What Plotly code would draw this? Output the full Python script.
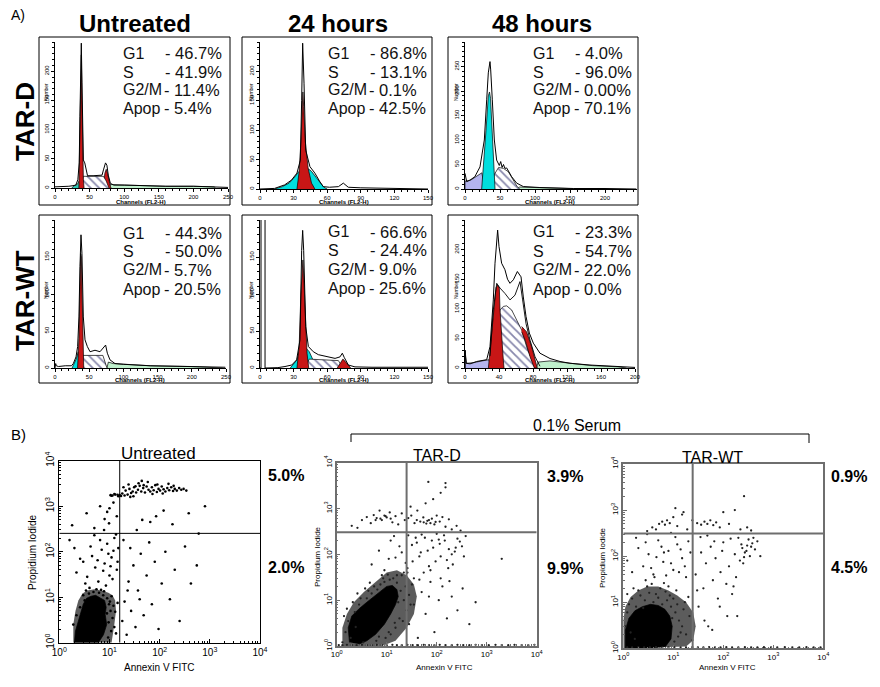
import plotly.graph_objects as go

W, H = 880, 687
OFF = 8  # the page body adds an 8 px margin; positions below are measured on the picture
FONT = "Liberation Sans, Arial, sans-serif"

# ---------------- A) DNA content histograms (channel, count) ----------------
# Untreated TAR-D
h1_ch = [0, 10, 20, 26, 30, 33, 35, 36, 37, 38, 39, 40, 41, 43, 45, 47, 55, 62, 68, 70, 73, 75, 77, 80, 85, 100, 130, 160, 200, 230, 250]
h1_n = [2, 2, 3, 4, 5, 14, 43, 122, 219, 248, 180, 94, 48, 43, 31, 21, 21, 22, 22, 31, 43, 39, 22, 8, 5, 5, 4, 3, 3, 2, 1]
h1_teal_x = [24, 28, 32, 35, 36.5]
h1_teal_y = [0, 4, 6, 12, 0]
h1_g1_x = [34.5, 36, 37, 38, 39, 40, 41, 42]
h1_g1_y = [0, 100, 200, 228, 150, 60, 15, 0]
h1_g2_x = [70, 70, 72, 74, 76, 78, 80, 81]
h1_g2_y = [0, 4, 25, 32, 25, 12, 3, 0]
h1_s_x = [36, 41, 70, 74, 78]
h1_s_y = [0, 20, 20, 12, 0]
h1_green_x = [78, 80, 100, 130, 160, 200, 230, 232]
h1_green_y = [0, 6, 5, 4, 3, 3, 2, 0]

# 24 hours TAR-D
h2_ch = [0, 10, 13, 22, 28, 33, 36, 37.2, 38.1, 39.3, 40.8, 44.6, 49, 53.6, 56.5, 62, 70, 74.4, 78.8, 90, 110, 130, 150]
h2_n = [0, 0, 1, 7, 15, 27, 49, 151, 248, 180, 66, 38, 27, 12, 4, 3, 4, 10, 3, 2, 1, 1, 0]
h2_cyan_x = [13, 20, 26, 30, 34, 38, 42, 46, 50, 54, 57, 60]
h2_cyan_y = [0, 4, 10, 18, 28, 36, 36, 30, 20, 10, 3, 0]
h2_g1_x = [33, 35, 36.5, 37.5, 38.3, 39, 40.5, 43, 46, 49]
h2_g1_y = [0, 30, 80, 140, 165, 140, 80, 35, 10, 0]

# 48 hours TAR-D
h3_ch = [0, 2.4, 7, 14, 21.4, 23.8, 27.6, 31, 33.3, 35.7, 36.7, 39, 41.9, 45.2, 47, 49, 51, 53, 55, 57, 59.5, 63, 66.7, 73.8, 83.3, 107, 155, 200, 245]
h3_n = [32, 15, 18, 25, 45, 66, 100, 182, 237, 260, 243, 182, 100, 59, 55, 48, 56, 44, 50, 42, 43, 35, 25, 12, 5, 3, 1, 1, 0]
h3_lav_x = [0, 0, 8, 16, 24, 27, 28]
h3_lav_y = [0, 16, 18, 25, 33, 10, 0]
h3_cyan_x = [23.8, 27, 30, 33.3, 35, 36.5, 39, 41, 42.9]
h3_cyan_y = [0, 55, 120, 190, 198, 185, 110, 45, 0]
h3_s_x = [36, 42, 48, 55, 62, 68, 74, 78]
h3_s_y = [0, 30, 44, 42, 35, 20, 6, 0]
h3_green_x = [74, 78, 100, 140, 170, 172]
h3_green_y = [0, 4, 3, 2, 1, 0]

# Untreated TAR-WT
h4_ch = [0, 1, 2, 5, 15, 24, 26.8, 30.7, 33.1, 35, 36.5, 38, 39.4, 41.4, 43.9, 47.3, 51.2, 58.5, 65.8, 71.6, 74, 76.5, 80.4, 87.7, 100, 139, 193, 249]
h4_n = [0, 6, 3, 2, 3, 3, 6, 15, 29, 69, 137, 180, 155, 69, 38, 29, 22, 24, 22, 29, 31, 20, 11, 6, 5, 3, 2, 1]
h4_cyan_x = [25, 28, 31, 34, 35]
h4_cyan_y = [0, 5, 12, 22, 0]
h4_g1_x = [33, 35, 36.5, 37.5, 38.5, 39.5, 40.5, 42]
h4_g1_y = [0, 40, 110, 155, 150, 100, 40, 0]
h4_s_x = [37, 41, 70, 76]
h4_s_y = [0, 17, 17, 0]
h4_green_x = [76, 78, 85, 100, 140, 200, 245, 245]
h4_green_y = [0, 8, 6, 5, 3, 2, 1, 0]

# 24 hours TAR-WT
h5_ch = [0, 0.9, 0.9, 4.5, 4.5, 10, 16, 22.3, 28.3, 32.7, 35.7, 37.2, 38.1, 39, 40.8, 43.2, 47.6, 52.1, 59.5, 67, 71.4, 73.5, 75.3, 78.9, 84.8, 100, 150]
h5_n = [0, 0, 215, 215, 0, 0, 0.5, 2, 4, 11, 38, 159, 186, 159, 56, 29, 22, 18, 15, 13, 15, 20, 14, 4, 1.5, 1, 1]
h5_cyan_x = [27, 30, 33, 35, 38, 41, 44, 47, 49]
h5_cyan_y = [0, 5, 11, 22, 28, 27, 22, 12, 0]
h5_g1_x = [33, 35, 36.5, 37.5, 38.3, 39.2, 40.5, 42, 43.5]
h5_g1_y = [0, 30, 100, 140, 146, 120, 60, 20, 0]
h5_s_x = [40, 44, 70, 74]
h5_s_y = [0, 12, 10, 0]
h5_g2_x = [69, 72, 74, 76, 79, 81]
h5_g2_y = [0, 8, 12, 9, 3, 0]

# 48 hours TAR-WT
h6_ch = [0, 0.3, 1.2, 5.9, 13.7, 19.6, 25.5, 29.4, 31.4, 33.3, 35.3, 37.3, 38.4, 40, 43.1, 47, 50, 52.9, 56.9, 61.6, 65.9, 68.6, 71.8, 75.7, 80.4, 88.2, 100, 111.8, 123.5, 147, 182, 200]
h6_n = [0, 30, 8, 7, 11, 12, 14, 36, 70, 115, 177, 222, 233, 205, 177, 166, 150, 143, 149, 163, 154, 120, 87, 59, 42, 25, 16, 11, 8, 5, 2, 1]
h6_fit_ch = [29.4, 33.3, 37.3, 41.2, 47, 52.9, 58.8, 64.7, 67.8, 71.8, 76.5, 82.4, 88.2]
h6_fit_n = [20, 98, 143, 135, 126, 115, 123, 146, 115, 75, 47, 19, 3]
h6_lav_x = [0, 0, 2, 10, 20, 28, 31]
h6_lav_y = [0, 25, 8, 9, 12, 14, 0]
h6_s_x = [29.4, 35.3, 41.2, 45.1, 49, 54.9, 60.8, 66.7, 72.5, 78.4, 82.4]
h6_s_y = [0, 58, 98, 104, 105, 98, 81, 64, 36, 13, 0]
h6_g1_x = [27.5, 31.4, 34.5, 36.5, 38.5, 40.4, 41.2, 43.1, 45.1, 45.9]
h6_g1_y = [0, 58, 115, 136, 140, 135, 98, 47, 13, 0]
h6_g2_x = [66.7, 72.5, 78.4, 84.3, 85, 81.6, 76.5, 70.6, 66.7]
h6_g2_y = [70, 61, 36, 5, 0, 0, 19, 48, 61]
h6_green_x = [84, 86, 100, 115, 130, 150, 180, 190]
h6_green_y = [0, 10, 12, 10, 7, 4, 2, 0]

phase_names = ["G1", "S", "G2/M", "Apop"]
pct_ut_d = ["46.7%", "41.9%", "11.4%", "5.4%"]
pct_24_d = ["86.8%", "13.1%", "0.1%", "42.5%"]
pct_48_d = ["4.0%", "96.0%", "0.00%", "70.1%"]
pct_ut_wt = ["44.3%", "50.0%", "5.7%", "20.5%"]
pct_24_wt = ["66.6%", "24.4%", "9.0%", "25.6%"]
pct_48_wt = ["23.3%", "54.7%", "22.0%", "0.0%"]

# ---------------- B) Annexin V / PI dot plots ----------------
# density contours (speckle zone, dense core) and individual events
b1_outer_x = [1.9, 1.9, 2.1, 2.4, 2.9, 3.6, 5.0, 7.0, 9.5, 11.5, 13, 13.5, 12.5, 11]
b1_outer_y = [1.0, 2.5, 5.0, 8.5, 12, 14, 15, 14, 12.5, 11, 8.5, 5, 2.5, 1.0]
b1_core_x = [2.0, 2.1, 2.4, 2.7, 3.0, 3.5, 4.3, 5.3, 6.5, 8.0, 8.6, 8.2, 8.8, 7.6, 6.0]
b1_core_y = [1.0, 1.8, 3.0, 4.8, 7.0, 9.5, 10.5, 11.0, 9.5, 8.5, 6.0, 4.2, 2.5, 1.5, 1.0]
b1_halo_x = [1.9, 2.2, 2.6, 3.2, 3.9, 4.8, 6.2, 7.5, 9.0, 9.8, 10.5, 11.5, 12.5, 13.5, 9.4, 8.9, 10.2, 11.0, 12.0, 7.8, 5.5, 4.0, 3.0, 2.4, 6.8, 9.6, 10.8, 13.0, 14.5, 3.4]
b1_halo_y = [2.5, 4.0, 6.0, 8.5, 12.0, 13.0, 12.5, 11.0, 9.5, 7.0, 5.0, 3.5, 2.2, 1.6, 1.3, 4.4, 8.0, 10.5, 6.5, 13.5, 15.0, 16.0, 11.0, 1.3, 14.5, 2.8, 1.8, 4.8, 7.5, 14.0]
b1_mid_x = [2.2, 3.0, 3.6, 4.5, 5.2, 6.0, 7.0, 8.0, 9.0, 10.0, 11.0, 12.5, 14.0, 15.0, 3.3, 4.2, 5.8, 7.5, 9.5, 11.5, 13.5, 2.6, 6.5, 8.5, 10.5, 12.0, 14.5, 5.0, 7.8, 9.8, 1.6, 2.0]
b1_mid_y = [35, 60, 28, 80, 45, 22, 110, 55, 150, 30, 75, 200, 40, 120, 20, 130, 65, 38, 90, 25, 240, 70, 180, 18, 48, 105, 60, 230, 300, 420, 180, 120]
b1_ul_x = [1.8, 3.5, 5.0, 8.0, 10.0, 12.0, 14.0, 9.0, 11.0, 13.0, 15.0, 6.5, 10.5, 12.5, 14.5, 11.5]
b1_ul_y = [380, 700, 330, 520, 900, 1200, 600, 750, 1700, 1800, 1650, 1000, 1750, 1850, 1780, 1720]
b1_band_x = [16, 17, 18, 20, 21, 23, 25, 27, 29, 31, 34, 37, 40, 43, 47, 51, 55, 60, 65, 70, 76, 82, 88, 95, 102, 110, 120, 130, 142, 155, 170, 185, 200, 220, 245, 270, 300, 340, 19, 24, 30, 38, 48, 58, 72, 90, 115, 150, 190, 26, 33, 44]
b1_band_y = [1750, 1680, 1900, 1720, 2200, 1800, 2400, 1950, 2100, 2600, 2000, 2300, 2800, 2100, 2500, 2000, 2700, 2300, 2100, 2600, 2250, 2900, 2050, 2400, 2200, 2700, 2350, 2100, 2500, 2250, 2600, 2150, 2400, 2200, 2500, 2300, 2400, 2200, 2600, 3000, 1650, 3200, 2900, 3400, 1850, 3000, 1900, 3100, 2800, 1600, 2750, 3600]
b1_lr_x = [18, 20, 22, 24, 27, 30, 33, 37, 42, 48, 55, 62, 70, 80, 95, 110, 130, 160, 200, 250, 320, 420, 550, 800, 19, 26, 35, 45, 65, 85, 120, 180, 380, 600, 23, 40]
b1_lr_y = [3, 8, 1.5, 22, 5, 50, 2.2, 14, 90, 4, 30, 160, 7, 60, 2, 20, 100, 9, 40, 3, 130, 20, 50, 1000, 180, 120, 300, 500, 450, 600, 800, 400, 700, 250, 14, 9]
b1_gate_x = 16
b1_gate_y = 253

b2_outer_x = [1.3, 1.3, 1.6, 2.2, 3.5, 6, 10, 16, 25, 35, 40, 35, 25, 15, 8]
b2_outer_y = [1.0, 2.5, 5, 9, 15, 25, 40, 45, 35, 22, 12, 5, 2.5, 1.3, 1.0]
b2_core_x = [1.8, 1.7, 2.0, 2.8, 4.0, 5.5, 7.5, 10, 13, 16, 17, 15, 12, 9, 6, 4, 2.8]
b2_core_y = [1.2, 2.5, 4.5, 6.5, 9, 12, 16, 20, 21, 17, 12, 8, 5, 3, 1.8, 1.3, 1.1]
b2_halo_x = [1.3, 1.5, 1.7, 1.9, 2.3, 2.8, 3.4, 4.0, 5.0, 6.2, 7.5, 9.0, 11.0, 13.5, 16, 19, 22, 25, 18, 15, 20, 24, 28, 1.6, 2.1, 2.6, 3.7, 4.6, 5.6, 7.0, 8.5, 10.5, 12.0, 17, 21, 26, 30, 3.0, 4.3, 9.5, 14.5, 1.4, 2.4, 6.5, 11.5]
b2_halo_y = [1.2, 2.0, 3.5, 1.5, 5.5, 8.0, 1.2, 11.0, 14.0, 1.3, 22.0, 25.0, 2.0, 30.0, 24.0, 16.0, 10.0, 6.0, 4.0, 2.5, 35.0, 20.0, 13.0, 6.5, 9.0, 14.0, 18.0, 24.0, 20.0, 1.6, 30.0, 36.0, 1.8, 9.0, 3.5, 40.0, 8.0, 11.0, 16.0, 1.5, 3.2, 4.5, 2.6, 17.0, 28.0]
b2_mid_x = [5, 7, 9, 12, 15, 18, 22, 27, 33, 40, 48, 58, 70, 85, 100, 120, 145, 175, 210, 260, 320, 380, 8, 11, 14, 20, 26, 32, 38, 45, 55, 66, 80, 95, 115, 140, 170, 200, 240, 290, 16, 24, 35, 50, 75, 110, 160, 230, 350, 2000]
b2_mid_y = [60, 120, 45, 200, 85, 150, 40, 260, 70, 180, 110, 230, 55, 140, 280, 90, 200, 130, 60, 220, 150, 250, 35, 80, 250, 110, 50, 160, 230, 90, 40, 120, 200, 70, 170, 260, 50, 100, 140, 190, 35, 65, 30, 270, 45, 210, 75, 115, 90, 80]
b2_lr_x = [28, 35, 42, 50, 60, 75, 90, 110, 130, 160, 200, 260, 330, 450, 600, 32, 45, 70, 120, 180]
b2_lr_y = [3, 8, 1.5, 15, 5, 25, 2, 10, 20, 4, 12, 6, 18, 3, 9, 22, 28, 12, 30, 26]
b2_band_x = [2.0, 2.6, 3.2, 4.0, 4.8, 5.5, 6.3, 7.2, 8.0, 9.0, 10.0, 11.5, 13.0, 15.0, 17.0, 20.0, 23.0, 27.0, 31.0, 36.0, 41.0, 47.0, 54.0, 62.0, 70.0, 80.0, 90.0, 100.0, 115.0, 130.0, 150.0, 175.0, 200.0, 250.0, 300.0, 6.0, 7.5, 9.5, 12.0, 40.0, 55.0, 65.0, 75.0, 95.0, 60, 85, 120, 150, 30, 68, 150]
b2_band_y = [420, 380, 560, 650, 480, 720, 620, 900, 560, 700, 640, 820, 500, 680, 450, 780, 560, 620, 700, 480, 900, 520, 640, 470, 560, 600, 450, 700, 520, 650, 400, 580, 350, 420, 330, 560, 600, 680, 600, 560, 500, 540, 480, 510, 1300, 1600, 2200, 2900, 1100, 3800, 3600]
b2_floor_x = [1.1, 1.3, 1.6, 2.0, 2.5, 3.2, 4.0, 5.0, 6.3, 8.0, 10, 13, 16, 20, 26, 33, 42, 55, 70, 90, 115, 150, 200, 260, 340, 450, 600, 800, 1100, 1500, 2000, 2700, 3600, 5000, 6800, 9000]
b2_floor_y = [1.05, 1.04, 1.06, 1.05, 1.04, 1.06, 1.05, 1.04, 1.06, 1.05, 1.04, 1.06, 1.05, 1.04, 1.06, 1.05, 1.04, 1.06, 1.05, 1.04, 1.06, 1.05, 1.04, 1.06, 1.05, 1.04, 1.06, 1.05, 1.04, 1.06, 1.05, 1.04, 1.06, 1.05, 1.04, 1.06]
b2_gate_x = 25
b2_gate_y = 302

b3_outer_x = [1.0, 1.0, 1.1, 1.4, 2.0, 3.0, 5.0, 8.0, 12, 18, 25, 28, 25, 18]
b3_outer_y = [1.0, 4, 8, 13, 18, 22, 22, 18, 14, 10, 6, 3, 1.5, 1.1]
b3_core_x = [1.1, 1.1, 1.3, 1.7, 2.4, 3.5, 5.0, 6.8, 8.5, 9.5, 9.0, 7.0, 4.0]
b3_core_y = [1.02, 2.5, 4.5, 6.5, 8.0, 9.0, 8.5, 7.0, 5.0, 3.0, 1.6, 1.1, 1.02]
b3_halo_x = [1.1, 1.2, 1.3, 1.5, 1.8, 2.2, 2.7, 3.3, 4.0, 5.0, 6.0, 7.5, 9.0, 11.0, 13.0, 15.0, 18.0, 21.0, 24.0, 1.4, 1.7, 2.0, 2.5, 3.0, 3.7, 4.5, 5.5, 7.0, 8.5, 10.0, 12.0, 14.0, 16.0, 20.0, 10.5, 12.5, 9.5, 1.2, 1.6, 2.8, 4.2, 6.5, 8.0, 11.5, 17.0]
b3_halo_y = [3.0, 6.0, 9.0, 12.0, 8.0, 14.0, 11.0, 16.0, 10.0, 12.5, 9.0, 11.0, 8.0, 6.0, 4.0, 3.0, 2.0, 5.0, 1.5, 2.2, 1.6, 18.0, 7.5, 22.0, 25.0, 15.0, 20.0, 17.0, 14.0, 12.0, 9.0, 2.2, 7.0, 13.0, 1.4, 1.8, 4.5, 15.0, 20.0, 30.0, 35.0, 26.0, 22.0, 18.0, 10.0]
b3_mid_x = [1.2, 1.5, 2.0, 2.5, 3.2, 4.0, 5.0, 6.3, 8.0, 10, 12, 15, 18, 22, 1.8, 2.8, 3.6, 4.6, 5.8, 7.2, 9.0, 11, 14, 17, 20, 3.0, 6.5, 13]
b3_mid_y = [80, 45, 150, 60, 110, 40, 220, 75, 130, 50, 180, 90, 35, 120, 250, 200, 55, 95, 160, 38, 70, 260, 140, 60, 210, 300, 120, 45]
b3_right_x = [28, 32, 36, 40, 45, 50, 56, 62, 70, 78, 88, 100, 115, 130, 150, 170, 190, 215, 240, 270, 300, 340, 380, 430, 480, 550, 200, 230, 260, 290, 320, 360, 400, 250, 180, 30, 42, 60, 85, 120, 160, 35, 48, 66, 95, 140]
b3_right_y = [40, 8, 120, 20, 70, 3, 160, 30, 90, 12, 45, 200, 25, 60, 15, 110, 5, 80, 150, 120, 170, 100, 190, 140, 210, 100, 250, 180, 95, 130, 230, 160, 250, 70, 35, 18, 4, 2.5, 8, 5, 22, 260, 280, 210, 130, 240]
b3_band_x = [3.0, 3.8, 4.5, 5.2, 6.0, 6.8, 7.5, 8.5, 10, 12, 15, 19, 24, 30, 36, 42, 48, 55, 63, 72, 85, 100, 130, 170, 220, 300, 360, 11, 16, 9, 260]
b3_band_y = [350, 420, 380, 500, 560, 480, 600, 520, 700, 450, 800, 380, 600, 520, 480, 560, 500, 600, 470, 540, 420, 900, 500, 1000, 380, 420, 360, 1100, 900, 320, 2000]
b3_floor_x = [1.2, 1.5, 2.0, 2.6, 3.4, 4.5, 6.0, 8.0, 10.5, 14, 18, 24, 31, 40, 52, 68, 88, 115, 150, 200, 270, 360, 480, 650, 900, 1200, 1700, 2400, 3300, 4600, 6400, 8800]
b3_floor_y = [1.05, 1.04, 1.06, 1.05, 1.04, 1.06, 1.05, 1.04, 1.06, 1.05, 1.04, 1.06, 1.05, 1.04, 1.06, 1.05, 1.04, 1.06, 1.05, 1.04, 1.06, 1.05, 1.04, 1.06, 1.05, 1.04, 1.06, 1.05, 1.04, 1.06, 1.05, 1.04]
b3_gate_x = 24.4
b3_gate_y = 311

RED = "#c81616"
CYAN = "#00dede"
TEAL = "#30c8b4"
GREEN = "#bff0cc"
LAV = "#b4b4ee"
SPECKLE = "#5c5c5c"

fig = go.Figure()


def X(p):
    return (p - OFF) / W


def Y(p):
    return 1 - (p - OFF) / H


def sfx(k):
    return "" if k == 1 else str(k)


def line_tr(k, xs, ys, width=1.0, color="black"):
    fig.add_trace(go.Scatter(x=xs, y=ys, mode="lines", line=dict(color=color, width=width),
                             xaxis="x" + sfx(k), yaxis="y" + sfx(k), showlegend=False, hoverinfo="skip"))


def region(k, xs, ys, color=None, hatch=False, edge="black", edge_w=0.7):
    kw = dict(fillcolor=color)
    if hatch:
        kw = dict(fillcolor="white",
                  fillpattern=dict(shape="\\", fgcolor="#12125a", bgcolor="white", size=6, solidity=0.3))
    fig.add_trace(go.Scatter(x=xs, y=ys, mode="lines", fill="toself", line=dict(color=edge, width=edge_w),
                             xaxis="x" + sfx(k), yaxis="y" + sfx(k), showlegend=False, hoverinfo="skip", **kw))


def dots(k, xs, ys, size=2, color="black"):
    fig.add_trace(go.Scatter(x=xs, y=ys, mode="markers", marker=dict(size=size, color=color, line=dict(width=0)),
                             xaxis="x" + sfx(k), yaxis="y" + sfx(k), showlegend=False, hoverinfo="skip"))


def hist_axes(k, xpx, ypx, xr, xt, xm, yr, yt, ym):
    common = dict(showline=True, linecolor="black", linewidth=1, ticks="outside", ticklen=3,
                  tickcolor="black", showgrid=False, zeroline=False, automargin=False,
                  tickfont=dict(family=FONT, size=6, color="black"))
    fig.update_layout({
        "xaxis" + sfx(k): dict(domain=[X(xpx[0]), X(xpx[1])], range=xr, tickmode="array", tickvals=xt,
                               anchor="y" + sfx(k),
                               minor=dict(tickmode="linear", tick0=0, dtick=xm, ticks="outside", ticklen=2),
                               **common),
        "yaxis" + sfx(k): dict(domain=[Y(ypx[1]), Y(ypx[0])], range=yr, tickmode="array", tickvals=yt,
                               anchor="x" + sfx(k), tickangle=-90,
                               minor=dict(tickmode="linear", tick0=0, dtick=ym, ticks="outside", ticklen=2),
                               **common),
    })


# histogram panels: axis geometry in pixels
hist_axes(1, (55, 228), (42, 188), [0, 250], [0, 50, 100, 150, 200, 250], 10, [0, 250], [0, 50, 100, 150, 200], 10)
hist_axes(2, (260, 428), (42, 189), [0, 150], [0, 30, 60, 90, 120, 150], 6, [0, 250], [0, 50, 100, 150, 200], 10)
hist_axes(3, (465, 636.5), (42, 189), [0, 245], [0, 50, 100, 150, 200], 10, [0, 300], [0, 50, 100, 150, 200, 250], 10)
hist_axes(4, (55, 226), (220, 368), [0, 250], [0, 50, 100, 150, 200, 250], 10, [0, 200], [0, 50, 100, 150], 10)
hist_axes(5, (260, 428), (220, 368), [0, 150], [0, 30, 60, 90, 120, 150], 6, [0, 200], [0, 50, 100, 150], 10)
hist_axes(6, (465, 635), (220, 368), [0, 200], [0, 40, 80, 120, 160, 200], 8, [0, 250], [0, 50, 100, 150, 200], 10)

# panel 1
region(1, h1_green_x, h1_green_y, GREEN)
region(1, h1_teal_x, h1_teal_y, TEAL)
region(1, h1_g2_x, h1_g2_y, RED)
region(1, h1_s_x, h1_s_y, hatch=True)
region(1, h1_g1_x, h1_g1_y, RED)
line_tr(1, h1_ch, h1_n)
# panel 2
region(2, h2_cyan_x, h2_cyan_y, CYAN)
region(2, h2_g1_x, h2_g1_y, RED)
line_tr(2, h2_ch, h2_n)
# panel 3
region(3, h3_green_x, h3_green_y, GREEN)
region(3, h3_lav_x, h3_lav_y, LAV)
region(3, h3_s_x, h3_s_y, hatch=True)
region(3, h3_cyan_x, h3_cyan_y, CYAN)
line_tr(3, h3_ch, h3_n)
# panel 4
region(4, h4_green_x, h4_green_y, GREEN)
region(4, h4_cyan_x, h4_cyan_y, CYAN)
region(4, h4_s_x, h4_s_y, hatch=True)
region(4, h4_g1_x, h4_g1_y, RED)
line_tr(4, h4_ch, h4_n)
# panel 5
region(5, h5_cyan_x, h5_cyan_y, CYAN)
region(5, h5_s_x, h5_s_y, hatch=True)
region(5, h5_g2_x, h5_g2_y, RED)
region(5, h5_g1_x, h5_g1_y, RED)
line_tr(5, h5_ch, h5_n)
# panel 6
region(6, h6_green_x, h6_green_y, GREEN)
region(6, h6_lav_x, h6_lav_y, LAV)
region(6, h6_s_x, h6_s_y, hatch=True)
region(6, h6_g1_x, h6_g1_y, RED)
region(6, h6_g2_x, h6_g2_y, RED)
line_tr(6, h6_fit_ch, h6_fit_n, width=0.9)
line_tr(6, h6_ch, h6_n)


# ---------------- scatter axes ----------------
def scat_axes(k, xpx, ypx, fsize, lcolor, lwidth):
    minor_vals = [m * 10 ** d for d in range(4) for m in range(2, 10)]
    common = dict(type="log", range=[0, 4], tickmode="array", tickvals=[1, 10, 100, 1000, 10000],
                  ticktext=["10<sup>0</sup>", "10<sup>1</sup>", "10<sup>2</sup>", "10<sup>3</sup>", "10<sup>4</sup>"],
                  ticks="inside", ticklen=4, tickcolor=lcolor, showline=True, mirror=True,
                  linecolor=lcolor, linewidth=lwidth, showgrid=False, zeroline=False, automargin=False,
                  minor=dict(tickvals=minor_vals, ticks="inside", ticklen=2, tickcolor=lcolor),
                  tickfont=dict(family=FONT, size=fsize, color="black"))
    fig.update_layout({
        "xaxis" + sfx(k): dict(domain=[X(xpx[0]), X(xpx[1])], anchor="y" + sfx(k), **common),
        "yaxis" + sfx(k): dict(domain=[Y(ypx[1]), Y(ypx[0])], anchor="x" + sfx(k), tickangle=-90, **common),
    })


scat_axes(7, (59.3, 260), (460.7, 642.7), 10, "black", 1)
scat_axes(8, (336.7, 536.7), (462.7, 646), 8, "#6e6e6e", 1.5)
scat_axes(9, (623.3, 823.3), (464, 648.3), 8, "#6e6e6e", 1.5)

# B1 untreated
region(7, b1_outer_x, b1_outer_y, SPECKLE, edge=SPECKLE, edge_w=0)
region(7, b1_core_x, b1_core_y, "black")
for xs, ys in [(b1_halo_x, b1_halo_y), (b1_mid_x, b1_mid_y), (b1_ul_x, b1_ul_y),
               (b1_band_x, b1_band_y), (b1_lr_x, b1_lr_y)]:
    dots(7, xs, ys, size=2.6)
line_tr(7, [b1_gate_x, b1_gate_x], [1, 10000], width=1)
line_tr(7, [1, 10000], [b1_gate_y, b1_gate_y], width=1)

# B2 TAR-D
region(8, b2_outer_x, b2_outer_y, SPECKLE, edge=SPECKLE, edge_w=0)
region(8, b2_core_x, b2_core_y, "black")
for xs, ys in [(b2_halo_x, b2_halo_y), (b2_mid_x, b2_mid_y), (b2_lr_x, b2_lr_y),
               (b2_band_x, b2_band_y), (b2_floor_x, b2_floor_y)]:
    dots(8, xs, ys, size=2.3, color="#222222")
line_tr(8, [b2_gate_x, b2_gate_x], [1, 10000], width=2, color="#6e6e6e")
line_tr(8, [1, 10000], [b2_gate_y, b2_gate_y], width=2, color="#6e6e6e")

# B3 TAR-WT
region(9, b3_outer_x, b3_outer_y, SPECKLE, edge=SPECKLE, edge_w=0)
region(9, b3_core_x, b3_core_y, "black")
for xs, ys in [(b3_halo_x, b3_halo_y), (b3_mid_x, b3_mid_y), (b3_right_x, b3_right_y),
               (b3_band_x, b3_band_y), (b3_floor_x, b3_floor_y)]:
    dots(9, xs, ys, size=2.3, color="#222222")
line_tr(9, [b3_gate_x, b3_gate_x], [1, 10000], width=2, color="#6e6e6e")
line_tr(9, [1, 10000], [b3_gate_y, b3_gate_y], width=2, color="#6e6e6e")

# ---------------- annotations ----------------
ann = []


def text(s, x, y, size, bold=False, anchor="center", angle=0, color="black"):
    ann.append(dict(text="<b>%s</b>" % s if bold else s, x=X(x), y=Y(y), xref="paper", yref="paper",
                    showarrow=False, xanchor=anchor, yanchor="middle", textangle=angle,
                    font=dict(family=FONT, size=size, color=color)))


text("A)", 9, 15, 14, anchor="left")
text("B)", 9, 434, 15, anchor="left")
text("Untreated", 135, 24, 24, bold=True)
text("24 hours", 338, 24, 24, bold=True)
text("48 hours", 542, 24, 24, bold=True)
text("TAR-D", 25, 122, 26, bold=True, angle=-90)
text("TAR-WT", 25, 301, 26, bold=True, angle=-90)

panel_text = [
    (121, [53, 72, 90, 108], pct_ut_d),
    (326, [53, 72, 90, 108], pct_24_d),
    (531, [53, 72, 90, 108], pct_48_d),
    (121, [233, 251, 270, 289], pct_ut_wt),
    (326, [232, 250, 269, 288], pct_24_wt),
    (531, [232, 251, 270, 289], pct_48_wt),
]
for lx, ys, pcts in panel_text:
    for j, (name, p) in enumerate(zip(phase_names, pcts)):
        text(name, lx, ys[j], 16, anchor="left", color="#111111")
        text("- " + p, lx + (42 if j < 2 else 41), ys[j], 16.5, anchor="left", color="#111111")

# histogram boxes and small axis titles
boxes = [(39, 37, 230, 205), (242, 37, 432, 205), (448, 37, 638, 205),
         (39, 215, 230, 383), (242, 215, 432, 383), (448, 215, 638, 383)]
shapes = []
for (x0, y0, x1, y1) in boxes:
    shapes.append(dict(type="rect", xref="paper", yref="paper", x0=X(x0), x1=X(x1), y0=Y(y1), y1=Y(y0),
                       line=dict(color="black", width=1)))
for ax_left, cx, row_y, ch_y in [(55, 141, 92, 202), (260, 344, 92, 202), (465, 550, 92, 202),
                                 (55, 140, 290, 380), (260, 344, 290, 380), (465, 550, 290, 380)]:
    text("Number", ax_left - 9, row_y, 5, angle=-90)
    text("<b>Channels (FL2-H)</b>", cx, ch_y, 6)

# scatter labels
text("Untreated", 158, 453, 17)
text("TAR-D", 437, 455, 16)
text("TAR-WT", 712, 457, 16)
text("5.0%", 266, 475, 16, bold=True, anchor="left")
text("2.0%", 266, 567, 16, bold=True, anchor="left")
text("3.9%", 545, 476, 16, bold=True, anchor="left")
text("9.9%", 545, 568, 16, bold=True, anchor="left")
text("0.9%", 829, 476, 16, bold=True, anchor="left")
text("4.5%", 829, 567, 16, bold=True, anchor="left")
text("0.1% Serum", 577, 425, 16)
text("Annexin V FITC", 159, 667, 10)
text("Propidium Iodide", 32, 553, 10, angle=-90)
text("Annexin V FITC", 444, 667, 8)
text("Propidium Iodide", 317, 557, 8, angle=-90)
text("Annexin V FITC", 727, 667, 8)
text("Propidium Iodide", 602, 558, 8, angle=-90)

# bracket over the serum-starved plots
for (x0, y0, x1, y1) in [(351, 434, 809, 434), (351, 434, 351, 442), (809, 434, 809, 443)]:
    shapes.append(dict(type="line", xref="paper", yref="paper", x0=X(x0), x1=X(x1), y0=Y(y0), y1=Y(y1),
                       line=dict(color="black", width=1)))

fig.update_layout(width=W, height=H, margin=dict(l=0, r=0, t=0, b=0, pad=0), autosize=False,
                  paper_bgcolor="white", plot_bgcolor="white", showlegend=False,
                  annotations=ann, shapes=shapes, font=dict(family=FONT))

fig.write_html("out.html")
